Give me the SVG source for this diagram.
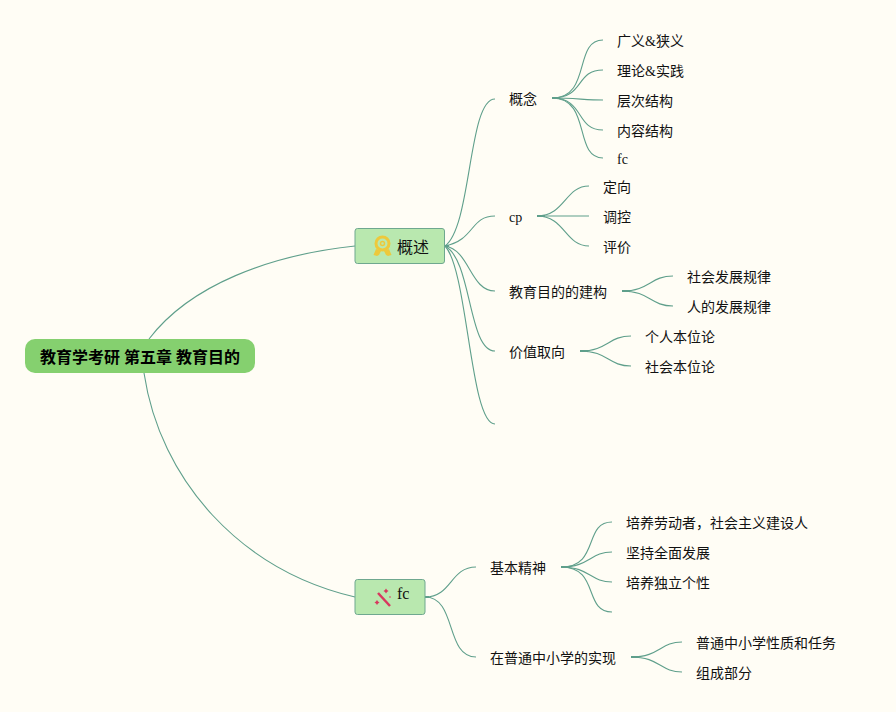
<svg xmlns="http://www.w3.org/2000/svg" width="896" height="712" viewBox="0 0 896 712">
<style>
text{font-family:"Liberation Serif","Noto Sans CJK SC",serif;font-size:14px;fill:#111}
.c{fill:none;stroke:#5f9f8b;stroke-width:1.100}
.s{fill:none;stroke:#5f9f8b;stroke-width:2}
.m{fill:#b9e8af;stroke:#6fa88f;stroke-width:1}
text.b{font-size:16px}
text.r{font-size:16px;font-weight:bold;fill:#000}
</style>
<rect width="896" height="712" fill="#fffdf5"/>
<g id="connectors">
<path class="c" d="M149 339C190 285 270 255 355 246"/>
<path class="c" d="M144 373C160 480 240 570 355 597"/>
<path class="c" d="M445 246C472 226 468 99 495 99"/>
<path class="c" d="M445 246C475 240 470 216 495 216"/>
<path class="c" d="M445 246C470 250 470 291 495 291"/>
<path class="c" d="M445 246C472 260 468 351 495 351"/>
<path class="c" d="M445 246C468 270 470 424 495 424"/>
<path class="c" d="M425 597C452 597 450 567 476 567"/>
<path class="c" d="M425 597C457 597 445 657 476 657"/>
<path class="c" d="M552 98C592 98 573 40 603 40"/>
<path class="c" d="M552 98C585 98 575 70 603 70"/>
<path class="c" d="M552 98C575 98 585 100 603 100"/>
<path class="c" d="M552 98C585 98 575 130 603 130"/>
<path class="c" d="M552 98C592 98 573 158 603 158"/>
<path class="c" d="M537 216C565 216 565 186 589 186"/>
<path class="c" d="M537 216H589"/>
<path class="c" d="M537 216C565 216 565 246 589 246"/>
<path class="c" d="M622 291C650 291 650 276 673 276"/>
<path class="c" d="M622 291C650 291 650 306 673 306"/>
<path class="c" d="M580 351C608 351 608 336 631 336"/>
<path class="c" d="M580 351C608 351 608 366 631 366"/>
<path class="c" d="M561 567C600 567 583 522 612 522"/>
<path class="c" d="M561 567C590 567 590 552 612 552"/>
<path class="c" d="M561 567C590 567 590 582 612 582"/>
<path class="c" d="M561 567C600 567 583 612 612 612"/>
<path class="c" d="M631 657C660 657 660 642 682 642"/>
<path class="c" d="M631 657C660 657 660 672 682 672"/>
<path class="s" d="M552 98H560M537 216H545M622 291H630M580 351H588M561 567H570M631 657H639M445 246H449M425 597H429"/>
</g>
<g id="root"><rect x="25" y="339" width="230" height="34" rx="10" fill="#85d06f"/><text class="r" x="40" y="363">教育学考研 第五章 教育目的</text></g>
<g id="n-gaishu"><rect class="m" x="355" y="228.500" width="89.500" height="35" rx="2.500"/>
<g fill="none" stroke="#edc93c"><circle cx="382.500" cy="243.500" r="6.500" stroke-width="3"/><circle cx="382.500" cy="243.500" r="2" stroke-width="1.500"/></g>
<path d="M376 249l-2.500 6 3.500 1 2-1 2-4zM389 249l2.500 6-3.500 1-2-1-2-4z" fill="#edc93c"/>
<text class="b" x="397" y="253">概述</text></g>
<g id="n-fc"><rect class="m" x="355" y="579.500" width="70" height="35" rx="2.500"/>
<path d="M378 593L390 606" stroke="#d8385e" stroke-width="2.500" fill="none"/>
<g fill="#d8385e"><path d="M386 588.500l1 1.500 1.500 1-1.500 1-1 1.500-1-1.500-1.500-1 1.500-1zM377 600l1 1.500 1.500 1-1.500 1-1 1.500-1-1.500-1.500-1 1.500-1z"/><circle cx="390" cy="597" r=".8"/><circle cx="381" cy="596" r=".6"/></g>
<text class="b" x="397" y="599">fc</text></g>
<g id="n1"><text x="509" y="104">概念</text></g>
<g id="n2"><text x="509" y="222">cp</text></g>
<g id="n3"><text x="509" y="297">教育目的的建构</text></g>
<g id="n4"><text x="509" y="357">价值取向</text></g>
<g id="n5"><text x="617" y="46">广义&amp;狭义</text></g>
<g id="n6"><text x="617" y="76">理论&amp;实践</text></g>
<g id="n7"><text x="617" y="106">层次结构</text></g>
<g id="n8"><text x="617" y="136">内容结构</text></g>
<g id="n9"><text x="617" y="164">fc</text></g>
<g id="n10"><text x="603" y="192">定向</text></g>
<g id="n11"><text x="603" y="222">调控</text></g>
<g id="n12"><text x="603" y="252">评价</text></g>
<g id="n13"><text x="687" y="282">社会发展规律</text></g>
<g id="n14"><text x="687" y="312">人的发展规律</text></g>
<g id="n15"><text x="645" y="342">个人本位论</text></g>
<g id="n16"><text x="645" y="372">社会本位论</text></g>
<g id="n17"><text x="490" y="573">基本精神</text></g>
<g id="n18"><text x="490" y="663">在普通中小学的实现</text></g>
<g id="n19"><text x="626" y="528">培养劳动者，社会主义建设人</text></g>
<g id="n20"><text x="626" y="558">坚持全面发展</text></g>
<g id="n21"><text x="626" y="588">培养独立个性</text></g>
<g id="n22"><text x="696" y="648">普通中小学性质和任务</text></g>
<g id="n23"><text x="696" y="678">组成部分</text></g>
</svg>
